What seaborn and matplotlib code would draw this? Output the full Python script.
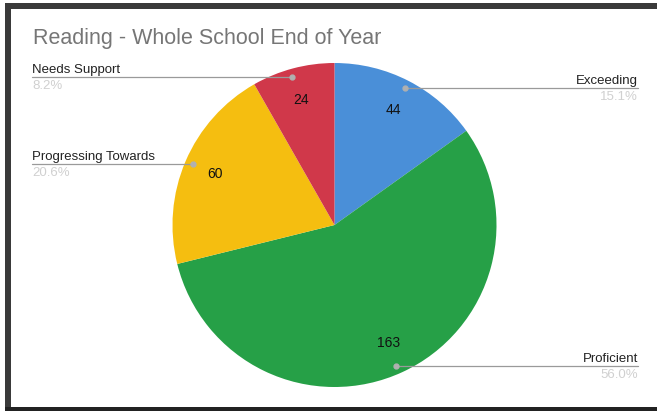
import numpy as np
import matplotlib
matplotlib.use("Agg")
import matplotlib.pyplot as plt
import seaborn as sns

# ---- data ----
categories = ["Exceeding", "Proficient", "Progressing Towards", "Needs Support"]
counts = [44, 163, 60, 24]
colors = ["#4a8fd8", "#26a047", "#f5be10", "#d0384a"]
title = "Reading - Whole School End of Year"

sns.set_theme(style="white")
plt.rcParams["font.family"] = ["Liberation Sans", "DejaVu Sans"]

W, H = 657, 411
fig = plt.figure(figsize=(W / 100, H / 100), dpi=100)
ax = fig.add_axes([0, 0, 1, 1])
ax.set_xlim(0, W)
ax.set_ylim(0, H)
ax.set_aspect("equal")
ax.axis("off")

def py(y):  # pixel y (top-down) to data y
    return H - y

cx, cy, R = 334.5, py(225), 162
total = sum(counts)

wedges, texts, autotexts = ax.pie(
    counts, colors=colors, startangle=90, counterclock=False,
    center=(cx, cy), radius=R, labels=None,
    autopct=lambda p: f"{round(p * total / 100)}", pctdistance=0.8,
    textprops=dict(color="#111111", fontsize=10),
    wedgeprops=dict(linewidth=0),
)
ax.set_xlim(0, W)
ax.set_ylim(0, H)

# title
ax.text(33, py(38), title, fontsize=15.5, color="#767676", va="center", ha="left")

# outside labels with leader lines (layout)
leader_y = [88, 366, 164, 77]
side = [1, 1, -1, -1]
text_x = {1: 638, -1: 32}
for cat, n, ly, s in zip(categories, counts, leader_y, side):
    yd = py(ly)
    dy = yd - cy
    r2 = 0.95 * R
    dx = np.sqrt(max(r2 ** 2 - dy ** 2, 0))
    dot_x = cx + s * dx
    ax.plot([dot_x, text_x[s]], [yd, yd], color="#9a9a9a", lw=0.9, zorder=3)
    ax.plot([dot_x], [yd], "o", ms=3.5, color="#b0b0b0", zorder=4)
    ha = "right" if s == 1 else "left"
    ax.text(text_x[s], yd + 1.5, cat, fontsize=9.5, color="#222222", ha=ha, va="bottom")
    ax.text(text_x[s], yd - 2.5, f"{100 * n / total:.1f}%", fontsize=9.5,
            color="#d0d0d0", ha=ha, va="top")

# scanned frame
ax.add_patch(plt.Rectangle((5, 0), 6, py(3), color="#3a3a3a", lw=0))
ax.add_patch(plt.Rectangle((5, py(9)), W - 5, 6, color="#3a3a3a", lw=0))
ax.add_patch(plt.Rectangle((5, 0), W - 5, 3.5, color="#222222", lw=0))

fig.savefig("out.png", dpi=100, facecolor="white")
